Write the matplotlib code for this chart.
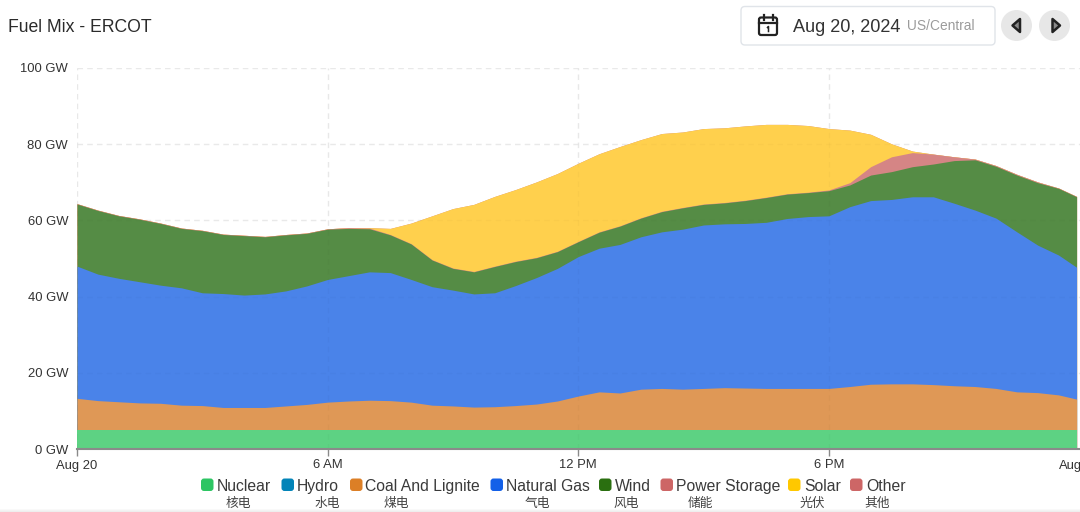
import matplotlib
matplotlib.use("Agg")
import matplotlib.pyplot as plt
import numpy as np
from matplotlib.patches import FancyBboxPatch, Circle, Polygon, Rectangle

plt.rcParams['font.family'] = ['Liberation Sans', 'Noto Sans CJK SC', 'DejaVu Sans']

hours = list(np.arange(0, 24, 0.5)) + [23.93]
nuclear = [5.0] * 49
hydro = [0.1] * 49
coal = [8.2,7.6,7.3,7.0,6.9,6.4,6.3,5.8,5.8,5.8,6.2,6.6,7.2,7.5,7.7,7.6,7.2,6.4,6.2,5.9,6.0,6.3,6.7,7.5,8.8,9.9,9.6,10.6,10.8,10.6,10.8,11.0,10.9,10.8,10.8,10.8,10.8,11.3,11.9,12.0,12.0,11.8,11.5,11.3,10.8,9.9,9.7,9.1,8.0]
gas = [34.7,33.2,32.4,31.8,31.0,30.8,29.6,29.9,29.5,29.8,30.2,31.1,32.2,32.9,33.7,33.6,32.2,31.1,30.4,29.7,29.9,31.5,33.2,34.8,36.6,37.7,39.0,40.0,41.1,42.0,42.9,43.0,43.2,43.6,44.6,45.1,45.3,47.2,48.2,48.4,49.1,49.3,47.9,46.3,44.7,42.0,38.7,36.7,34.6]
wind = [16.3,16.7,16.4,16.4,16.2,15.6,16.3,15.5,15.6,15.0,14.7,13.8,13.2,12.4,11.3,9.9,9.3,7.0,5.7,5.8,6.9,6.3,5.2,4.4,3.9,4.2,4.8,4.9,5.3,5.6,5.4,5.5,6.0,6.5,6.4,6.3,6.6,5.7,6.7,7.3,7.9,8.6,11.2,13.2,13.6,14.9,16.4,17.5,18.5]
storage = [0.1,0.1,0.1,0.1,0.1,0.1,0.1,0.1,0.1,0.1,0.1,0.1,0.1,0.2,0.2,0.1,0.1,0.1,0.1,0.1,0.1,0.1,0.1,0.1,0.1,0.1,0.1,0.1,0.1,0.1,0.1,0.1,0.1,0.1,0.1,0.1,0.2,0.6,2.2,3.9,3.7,2.6,1.0,0.2,0.2,0.2,0.2,0.1,0.1]
solar = [0,0,0,0,0,0,0,0,0,0,0,0,0,0,0.1,1.6,5.4,11.5,15.6,17.6,18.3,18.8,19.8,20.4,20.5,20.5,20.8,20.5,20.4,19.8,19.8,19.6,19.5,19.1,18.2,17.5,16.1,13.8,8.5,3.4,0.4,0,0,0,0,0,0,0,0]
other = [0.0] * 49

legend_names = ["Nuclear", "Hydro", "Coal And Lignite", "Natural Gas", "Wind", "Power Storage", "Solar", "Other"]
legend_cn = ["核电", "水电", "煤电", "气电", "风电", "储能", "光伏", "其他"]
colors = ["#2DC563", "#0284B8", "#DC7F26", "#1360E8", "#2A6F10", "#CD6666", "#FFC800", "#CD6666"]
area_colors = ["#5DD283", "#5AAFD0", "#DF9856", "#4A83E9", "#558C45", "#D58585", "#FFD04D", "#D58585"]
y_ticks = [0, 20, 40, 60, 80, 100]
y_labels = ["0 GW", "20 GW", "40 GW", "60 GW", "80 GW", "100 GW"]
x_ticks = [0, 6, 12, 18]
x_labels = ["Aug 20", "6 AM", "12 PM", "6 PM"]

W, H = 1080, 512
fig = plt.figure(figsize=(W / 100, H / 100), dpi=100, facecolor="white")

# Pixel-coordinate overlay for page furniture
ui = fig.add_axes([0, 0, 1, 1], zorder=0)
ui.set_xlim(0, W)
ui.set_ylim(H, 0)
ui.axis("off")

L, R, T, B = 77, 1079.5, 68, 449
ax = fig.add_axes([L / W, 1 - B / H, (R - L) / W, (B - T) / H], zorder=1)
ax.patch.set_alpha(0)

# Stack painted from the top layer down in solid tints, so adjoining layers leave no seam
series = [nuclear, hydro, coal, gas, wind, storage, solar, other]
tops = np.cumsum(np.array(series, dtype=float), axis=0)
for i in range(len(series) - 1, -1, -1):
    ax.fill_between(hours, 0, tops[i], color=area_colors[i], linewidth=0,
                    zorder=2 + (len(series) - i) * 0.01)

ax.set_xlim(0, 24)
ax.set_ylim(0, 100)
ax.set_xticks(x_ticks)
ax.set_xticklabels([])
ax.set_yticks(y_ticks)
ax.set_yticklabels([])
ax.grid(True, color="#eeeeee", linestyle=(0, (4, 3)), linewidth=1, zorder=1)
# Faint trace of the grid showing through the translucent areas
for v in x_ticks:
    ax.axvline(v, color="black", alpha=0.025, linestyle=(0, (4, 3)), linewidth=1, zorder=3)
for v in y_ticks[1:]:
    ax.axhline(v, color="black", alpha=0.02, linestyle=(0, (4, 3)), linewidth=1, zorder=3)
for s in ["top", "right", "left"]:
    ax.spines[s].set_visible(False)
ax.spines["bottom"].set_color("#8a8a8a")
ax.spines["bottom"].set_linewidth(1.5)
ax.spines["bottom"].set_zorder(5)
ax.tick_params(axis="y", length=0)
ax.tick_params(axis="x", length=5, width=1, color="#8a8a8a")

TXT = "#333333"
for v, s in zip(y_ticks, y_labels):
    ui.text(68, B - v * (B - T) / 100 + 4.5, s, ha="right", va="baseline", fontsize=9.4, color=TXT)
for v, s in zip(x_ticks, x_labels):
    ui.text(L + v * (R - L) / 24, 468.5, s, ha="center", va="baseline", fontsize=9.4, color=TXT)
ui.text(1059, 468.5, "Aug", ha="left", va="baseline", fontsize=9.4, color=TXT)

ui.text(8, 32, "Fuel Mix - ERCOT", ha="left", va="baseline", fontsize=12.7, color="#2b2b2b")

# Date selector
ui.add_patch(FancyBboxPatch((741, 6.5), 254, 38.5, boxstyle="round,pad=0,rounding_size=4",
                            fc="white", ec="#e0e4e9", lw=1.0))
ui.text(793, 32, "Aug 20, 2024", ha="left", va="baseline", fontsize=13.1, color="#333333")
ui.text(907, 30.5, "US/Central", ha="left", va="baseline", fontsize=9.9, color="#9b9b9b")
# Calendar icon
ui.add_patch(FancyBboxPatch((759, 17.5), 18, 17.5, boxstyle="round,pad=0,rounding_size=2",
                            fc="none", ec="#222222", lw=1.6))
ui.plot([759, 777], [22.5, 22.5], color="#222222", lw=1.6)
ui.plot([763.5, 763.5], [15, 19.5], color="#222222", lw=1.6)
ui.plot([772.5, 772.5], [15, 19.5], color="#222222", lw=1.6)
ui.plot([767.5, 768.5, 768.5], [27.5, 26.5, 31.5], color="#222222", lw=1.1)
# Previous / next buttons
for cx, pts in [(1016.5, [(1020, 19), (1020, 32), (1012.5, 25.5)]),
                (1054.5, [(1052.5, 19), (1052.5, 32), (1060, 25.5)])]:
    ui.add_patch(Circle((cx, 25.5), 15.5, fc="#e7e7e7", ec="none"))
    ui.add_patch(Polygon(pts, closed=True, fc="#8a8a8a", ec="#222222", lw=1.8, joinstyle="round"))

# Legend
sw_x = [201, 281.5, 350, 490.5, 599, 660.5, 788, 850]
tx_x = [216.5, 297, 365, 506, 615, 676, 804, 866]
cn_x = [238, 327, 396, 537, 626, 700, 812, 877]
for name, cn, c, sx, tx, cx in zip(legend_names, legend_cn, colors, sw_x, tx_x, cn_x):
    ui.add_patch(FancyBboxPatch((sx, 478.5), 12.5, 12.5, boxstyle="round,pad=0,rounding_size=3",
                                fc=c, ec="none"))
    # Agg rounds the glyph position with the descent, so descender labels need a nudge to line up
    base = 490.5 if any(ch in name for ch in "gy") else 491.0
    ui.text(tx, base, name, ha="left", va="baseline", fontsize=11.3, color="#3a3a3a")
    ui.text(cx, 506.5, cn, ha="center", va="baseline", fontsize=9.2, color="#444444",
            family=['Noto Sans CJK SC', 'DejaVu Sans'])

# Soft shadow along the bottom edge
for i, g in enumerate(["#f9f9f9", "#f3f3f3", "#eeeeee"]):
    ui.add_patch(Rectangle((0, 509 + i), W, 1, fc=g, ec="none"))

fig.savefig("out.png", dpi=100)
